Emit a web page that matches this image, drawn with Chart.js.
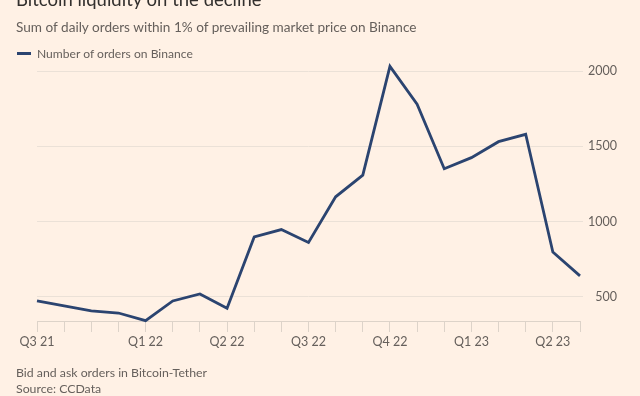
<!DOCTYPE html>
<html>
<head>
<meta charset="utf-8">
<script src="https://cdn.jsdelivr.net/npm/chart.js@4.4.0/dist/chart.umd.min.js"></script>
<style>
  html, body { margin: 0; padding: 0; background: #fff1e5; }
  #wrap { position: relative; width: 640px; height: 396px; overflow: hidden; background: #fff1e5; font-family: Lato, "Open Sans", sans-serif; }
  #chart { position: absolute; left: 0; top: 0; }
  .txt { position: absolute; left: 16px; white-space: nowrap; }
  #title { top: -12px; font-size: 18.5px; line-height: 22px; color: #33302e; }
  #subtitle { top: 18px; font-size: 13.6px; line-height: 18px; color: #66605c; }
  #legend { top: 46px; font-size: 12.1px; line-height: 16px; color: #66605c; left: 17px; }
  #legend span.key { display: inline-block; width: 14px; height: 3px; background: #2b4470; vertical-align: middle; margin-right: 6px; position: relative; top: -1px; }
  #note { top: 365px; font-size: 12.3px; line-height: 16px; color: #66605c; }
  #source { top: 381px; font-size: 12.3px; line-height: 16px; color: #66605c; }
</style>
</head>
<body>
<div id="wrap">
  <canvas id="chart" width="640" height="396"></canvas>
  <div class="txt" id="title">Bitcoin liquidity on the decline</div>
  <div class="txt" id="subtitle">Sum of daily orders within 1% of prevailing market price on Binance</div>
  <div class="txt" id="legend"><span class="key"></span>Number of orders on Binance</div>
  <div class="txt" id="note">Bid and ask orders in Bitcoin-Tether</div>
  <div class="txt" id="source">Source: CCData</div>
</div>
<script>
// monthly points, Sep 2021 - May 2023
var months = ['Sep 21', 'Oct 21', 'Nov 21', 'Dec 21', 'Jan 22', 'Feb 22', 'Mar 22', 'Apr 22',
              'May 22', 'Jun 22', 'Jul 22', 'Aug 22', 'Sep 22', 'Oct 22', 'Nov 22', 'Dec 22',
              'Jan 23', 'Feb 23', 'Mar 23', 'Apr 23', 'May 23'];
var orders = [473, 440, 407, 393, 342, 473, 520, 425, 898, 947, 862, 1165, 1309, 2031,
              1780, 1351, 1425, 1531, 1580, 798, 640];
// quarter labels shown under some of the months
var quarterLabels = ['Q3 21', '', '', '', 'Q1 22', '', '', 'Q2 22', '', '', 'Q3 22', '', '',
                     'Q4 22', '', '', 'Q1 23', '', '', 'Q2 23', ''];
var yTicks = [500, 1000, 1500, 2000];

var ctx = document.getElementById('chart').getContext('2d');
var chart = new Chart(ctx, {
    type: 'line',
    data: {
        labels: months,
        datasets: [{
            label: 'Number of orders on Binance',
            data: orders,
            borderColor: '#2b4470',
            borderWidth: 2.8,
            pointRadius: 0,
            tension: 0,
            clip: false
        }]
    },
    options: {
        responsive: false,
        animation: false,
        devicePixelRatio: 1,
        layout: { padding: { left: 37, right: 23, top: 56, bottom: 45 } },
        plugins: {
            legend: { display: false },
            tooltip: { enabled: false }
        },
        scales: {
            x: {
                offset: false,
                grid: { drawOnChartArea: false, drawTicks: true, tickLength: 11, color: '#ddd3c9' },
                border: { display: true, color: '#ddd3c9' },
                ticks: {
                    autoSkip: false,
                    maxRotation: 0,
                    padding: 2,
                    color: '#66605c',
                    font: { family: 'Lato', size: 12.5 },
                    callback: function(value, index) { return quarterLabels[index]; }
                },
                afterFit: function(axis) { axis.height = 30; }
            },
            y: {
                position: 'right',
                min: 340,
                max: 2100,
                grid: { color: '#ebe1d7', drawTicks: true, tickLength: 3 },
                border: { display: false },
                ticks: {
                    crossAlign: 'far',
                    padding: 4,
                    color: '#66605c',
                    font: { family: 'Lato', size: 12.5 },
                    callback: function(value) { return String(value); }
                },
                afterBuildTicks: function(axis) {
                    axis.ticks = yTicks.map(function(v) { return { value: v }; });
                },
                afterFit: function(axis) { axis.width = 37; }
            }
        }
    }
});
</script>
</body>
</html>
